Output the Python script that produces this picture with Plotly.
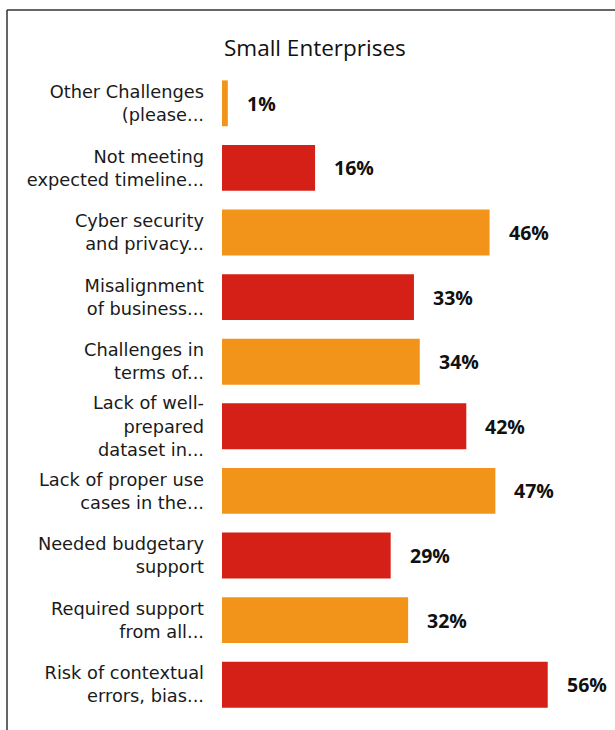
import plotly.graph_objects as go

# Challenge categories, top to bottom
categories = [
    "Other Challenges<br>(please...",
    "Not meeting<br>expected timeline...",
    "Cyber security<br>and privacy...",
    "Misalignment<br>of business...",
    "Challenges in<br>terms of...",
    "Lack of well-<br>prepared<br>dataset in...",
    "Lack of proper use<br>cases in the...",
    "Needed budgetary<br>support",
    "Required support<br>from all...",
    "Risk of contextual<br>errors, bias...",
]
values = [1, 16, 46, 33, 34, 42, 47, 29, 32, 56]

ORANGE = "#F3941A"
RED = "#D42017"
colors = [ORANGE if i % 2 == 0 else RED for i in range(len(values))]

W, H = 615, 730
ML, MR, MT, MB = 222, 44, 71, 13
pw = W - ML - MR
ph = H - MT - MB

fig = go.Figure(
    go.Bar(
        x=values,
        y=categories,
        orientation="h",
        marker=dict(color=colors, line=dict(width=0)),
        hoverinfo="skip",
    )
)

# value labels to the right of each bar
for c, v in zip(categories, values):
    fig.add_annotation(
        x=v, y=c, text=f"<b>{v}%</b>", showarrow=False,
        xanchor="left", xshift=17,
        font=dict(family="Open Sans", size=19.5, color="#111111"),
    )

# title
fig.add_annotation(
    x=(315 - ML) / pw, y=(H - MB - 47) / ph, xref="paper", yref="paper",
    text="Small Enterprises", showarrow=False, xanchor="center", yanchor="middle",
    font=dict(family="Open Sans", size=22.5, color="#111111"),
)

# frame lines along the top and left edges
def px_x(x):
    return (x - ML) / pw

def px_y(y):
    return (H - MB - y) / ph

line_style = dict(color="#333333", width=1.5)
fig.add_shape(type="line", xref="paper", yref="paper",
              x0=px_x(7), x1=px_x(615), y0=px_y(10), y1=px_y(10), line=line_style)
fig.add_shape(type="line", xref="paper", yref="paper",
              x0=px_x(7), x1=px_x(7), y0=px_y(10), y1=px_y(730), line=line_style)

fig.update_layout(
    width=W, height=H,
    margin=dict(l=ML, r=MR, t=MT, b=MB),
    paper_bgcolor="white", plot_bgcolor="white",
    bargap=0.29,
    showlegend=False,
    xaxis=dict(range=[0, 60], visible=False, fixedrange=True),
    yaxis=dict(
        autorange="reversed", showgrid=False, zeroline=False, showline=False,
        ticks="", ticklabelstandoff=17,
        tickfont=dict(family="DejaVu Sans", size=17.8, color="#1a1a1a"),
    ),
)

fig.write_html("out.html")
